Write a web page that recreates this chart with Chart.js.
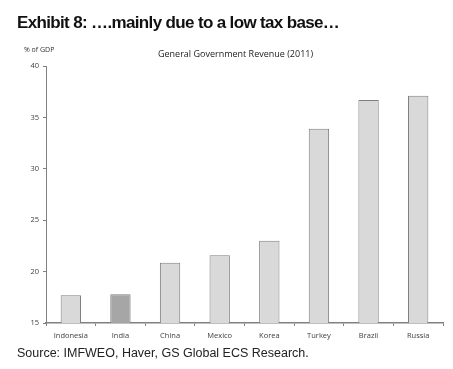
<!DOCTYPE html>
<html>
<head>
<meta charset="utf-8">
<script src="https://cdn.jsdelivr.net/npm/chart.js@4"></script>
<style>
  body { margin: 0; background: #fff; }
  #wrap { position: relative; width: 453px; height: 369px; }
  #myChart { position: absolute; left: 0; top: 0; }
  .txt { position: absolute; white-space: nowrap; }
  #heading { left: 17px; top: 13px; font: bold 17px "Liberation Sans", Arial, sans-serif; letter-spacing: -0.65px; color: #111; }
  #unit { left: 24px; top: 45px; font: 7px "Open Sans", sans-serif; color: #333; }
  #ctitle { left: 158px; top: 47px; font: 9px "Open Sans", sans-serif; color: #222; }
  #source { left: 17px; top: 346px; font: 12.5px "Liberation Sans", Arial, sans-serif; color: #222; }
</style>
</head>
<body>
<div id="wrap">
  <canvas id="myChart" width="453" height="369"></canvas>
  <div class="txt" id="heading">Exhibit 8: ….mainly due to a low tax base…</div>
  <div class="txt" id="unit">% of GDP</div>
  <div class="txt" id="ctitle">General Government Revenue (2011)</div>
  <div class="txt" id="source">Source: IMFWEO, Haver, GS Global ECS Research.</div>
</div>
<script>
const countries = ['Indonesia', 'India', 'China', 'Mexico', 'Korea', 'Turkey', 'Brazil', 'Russia'];
const revenue = [17.7, 17.8, 20.85, 21.6, 23.0, 33.9, 36.7, 37.1];
const yTicks = [15, 20, 25, 30, 35, 40];

const barColors = countries.map(c => c === 'India' ? '#a6a6a6' : '#d9d9d9');

const config = {
    type: 'bar',
    data: {
        labels: countries,
        datasets: [{
            label: 'General Government Revenue (2011)',
            data: revenue,
            backgroundColor: barColors,
            borderColor: '#7f7f7f',
            borderWidth: 1,
            borderSkipped: 'bottom',
            categoryPercentage: 1,
            barPercentage: 0.41
        }]
    },
    options: {
        responsive: false,
        animation: false,
        layout: { padding: { left: 0, right: 10, top: 66, bottom: 0 } },
        plugins: {
            legend: { display: false },
            tooltip: { enabled: false }
        },
        scales: {
            x: {
                grid: { drawOnChartArea: false, tickLength: 3, color: '#808080' },
                border: { color: '#808080', width: 1.5 },
                ticks: { color: '#404040', font: { family: 'Open Sans', size: 7.5 }, padding: 5, maxRotation: 0 },
                afterFit: (scale) => { scale.height = 46; }
            },
            y: {
                min: 15,
                max: 40,
                afterBuildTicks: (scale) => { scale.ticks = yTicks.map(v => ({ value: v })); },
                grid: { drawOnChartArea: false, tickLength: 3, color: '#808080' },
                border: { color: '#808080', width: 1 },
                ticks: { color: '#404040', font: { family: 'Open Sans', size: 7.5 }, padding: 4 },
                afterFit: (scale) => { scale.width = 46; }
            }
        }
    }
};

const myChart = new Chart(document.getElementById('myChart'), config);
</script>
</body>
</html>
